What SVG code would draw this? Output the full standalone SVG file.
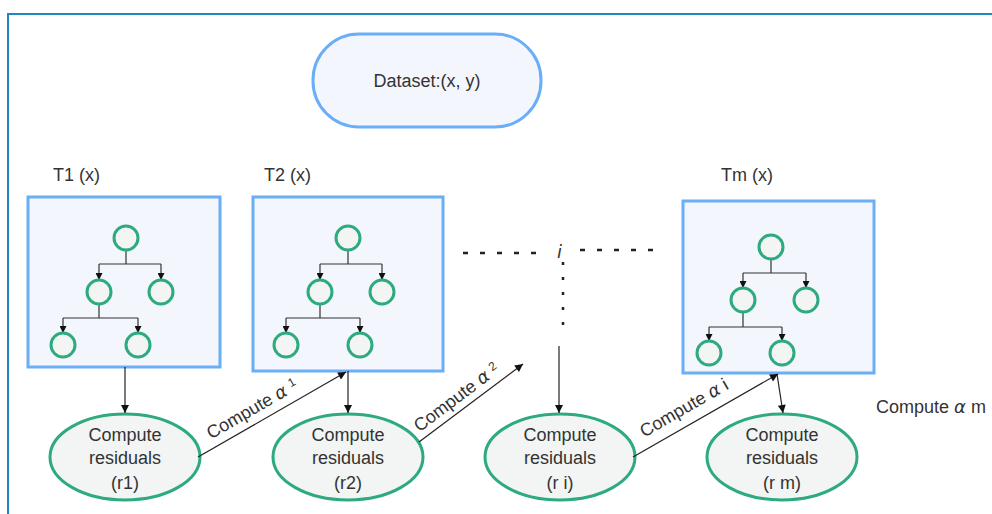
<svg xmlns="http://www.w3.org/2000/svg" width="992" height="514" viewBox="0 0 992 514">
<defs>
<style>
text{font-family:"Liberation Sans",Arial,sans-serif;fill:#333;font-size:18px}
.frame{stroke:#1c87c2;stroke-width:2;fill:none}
.box{fill:#f3f7fd;stroke:#6aaef8;stroke-width:3}
.c{fill:#f2f5f4;stroke:#2eaa7f;stroke-width:3}
.ell{fill:#f2f5f4;stroke:#2eaa7f;stroke-width:3}
.tl{stroke:#333;stroke-width:1.2;fill:none}
.ln{stroke:#222;stroke-width:1.2;fill:none}
.dash{stroke:#222;stroke-width:2.5;fill:none;stroke-dasharray:5 12}
.dot{stroke:#222;stroke-width:2.5;fill:none;stroke-dasharray:3 12}
.al{font-style:italic;font-family:"DejaVu Sans",sans-serif}
</style>
<marker id="ah" viewBox="0 0 10 10" refX="10" refY="5" markerWidth="9" markerHeight="8" markerUnits="userSpaceOnUse" orient="auto">
<path d="M0,0 L10,5 L0,10 z" fill="#111"/>
</marker>
<marker id="ta" viewBox="0 0 10 10" refX="10" refY="5" markerWidth="7" markerHeight="7" markerUnits="userSpaceOnUse" orient="auto">
<path d="M0,0 L10,5 L0,10 z" fill="#111"/>
</marker>
</defs>
<rect width="992" height="514" fill="#fff"/>
<path class="frame" d="M8,514 L8,14 L992,14"/>

<g id="dataset">
<rect class="box" x="313" y="34" width="228" height="93" rx="46" ry="46"/>
<text x="427" y="87" text-anchor="middle">Dataset:(x, y)</text>
</g>

<g id="T1">
<text x="53" y="181">T1 (x)</text>
<rect class="box" x="28" y="197" width="192" height="170"/>
<path class="tl" d="M126,250 V264 M99,264 H161 M99,304 V318 M63,318 H138"/>
<path class="tl" marker-end="url(#ta)" d="M99,264 V280"/>
<path class="tl" marker-end="url(#ta)" d="M161,264 V280"/>
<path class="tl" marker-end="url(#ta)" d="M63,318 V333"/>
<path class="tl" marker-end="url(#ta)" d="M138,318 V333"/>
<circle class="c" cx="126" cy="238" r="12"/>
<circle class="c" cx="99" cy="292" r="12"/>
<circle class="c" cx="161" cy="292" r="12"/>
<circle class="c" cx="63" cy="345" r="12"/>
<circle class="c" cx="138" cy="345" r="12"/>
</g>

<g id="T2">
<text x="264" y="181">T2 (x)</text>
<rect class="box" x="253" y="197" width="190" height="174"/>
<path class="tl" d="M348,250 V264 M320,264 H382 M320,304 V318 M286,318 H360"/>
<path class="tl" marker-end="url(#ta)" d="M320,264 V280"/>
<path class="tl" marker-end="url(#ta)" d="M382,264 V280"/>
<path class="tl" marker-end="url(#ta)" d="M286,318 V333"/>
<path class="tl" marker-end="url(#ta)" d="M360,318 V333"/>
<circle class="c" cx="348" cy="238" r="12"/>
<circle class="c" cx="320" cy="292" r="12"/>
<circle class="c" cx="382" cy="292" r="12"/>
<circle class="c" cx="286" cy="345" r="12"/>
<circle class="c" cx="360" cy="345" r="12"/>
</g>

<g id="Tm">
<text x="721" y="181">Tm (x)</text>
<rect class="box" x="683" y="201" width="191" height="172"/>
<path class="tl" d="M771,259 V273 M743,273 H806 M743,312 V327 M709,327 H782"/>
<path class="tl" marker-end="url(#ta)" d="M743,273 V288"/>
<path class="tl" marker-end="url(#ta)" d="M806,273 V288"/>
<path class="tl" marker-end="url(#ta)" d="M709,327 V341"/>
<path class="tl" marker-end="url(#ta)" d="M782,327 V341"/>
<circle class="c" cx="771" cy="247" r="12"/>
<circle class="c" cx="743" cy="300" r="12"/>
<circle class="c" cx="806" cy="300" r="12"/>
<circle class="c" cx="709" cy="353" r="12"/>
<circle class="c" cx="782" cy="353" r="12"/>
</g>

<g id="dots">
<path class="dash" d="M463,253 H540"/>
<path class="dash" d="M580,250 H655"/>
<path class="dot" d="M563,262 V325"/>
<text x="557" y="258" class="al" font-size="20">i</text>
</g>

<g id="r1">
<ellipse class="ell" cx="125" cy="457" rx="75" ry="43"/>
<text x="125" y="441" text-anchor="middle">Compute</text>
<text x="125" y="464" text-anchor="middle">residuals</text>
<text x="125" y="489" text-anchor="middle">(r1)</text>
</g>
<g id="r2">
<ellipse class="ell" cx="348" cy="457" rx="75" ry="43"/>
<text x="348" y="441" text-anchor="middle">Compute</text>
<text x="348" y="464" text-anchor="middle">residuals</text>
<text x="348" y="489" text-anchor="middle">(r2)</text>
</g>
<g id="ri">
<ellipse class="ell" cx="560" cy="457" rx="75" ry="43"/>
<text x="560" y="441" text-anchor="middle">Compute</text>
<text x="560" y="464" text-anchor="middle">residuals</text>
<text x="560" y="489" text-anchor="middle">(r i)</text>
</g>
<g id="rm">
<ellipse class="ell" cx="782" cy="457" rx="75" ry="43"/>
<text x="782" y="441" text-anchor="middle">Compute</text>
<text x="782" y="464" text-anchor="middle">residuals</text>
<text x="782" y="489" text-anchor="middle">(r m)</text>
</g>

<g id="connectors">
<path class="ln" marker-end="url(#ah)" d="M125,367 V413"/>
<path class="ln" marker-end="url(#ah)" d="M348,371 V413"/>
<path class="ln" marker-end="url(#ah)" d="M559,346 V413"/>
<path class="ln" marker-end="url(#ah)" d="M777,374 L783,413"/>
<path class="ln" marker-end="url(#ah)" d="M198,457 L346,372"/>
<path class="ln" marker-end="url(#ah)" d="M419,442 L523,364"/>
<path class="ln" marker-end="url(#ah)" d="M633,457 L778,374"/>
</g>

<g id="labels">
<text transform="translate(255,414) rotate(-30)" text-anchor="middle">Compute <tspan class="al">α</tspan> <tspan font-size="12" dy="-5">1</tspan></text>
<text transform="translate(460,402) rotate(-37)" text-anchor="middle">Compute <tspan class="al">α</tspan> <tspan font-size="12" dy="-5">2</tspan></text>
<text transform="translate(687,413) rotate(-30)" text-anchor="middle">Compute <tspan class="al">α</tspan> i</text>
<text x="876" y="413">Compute <tspan class="al">α</tspan> m</text>
</g>
</svg>
